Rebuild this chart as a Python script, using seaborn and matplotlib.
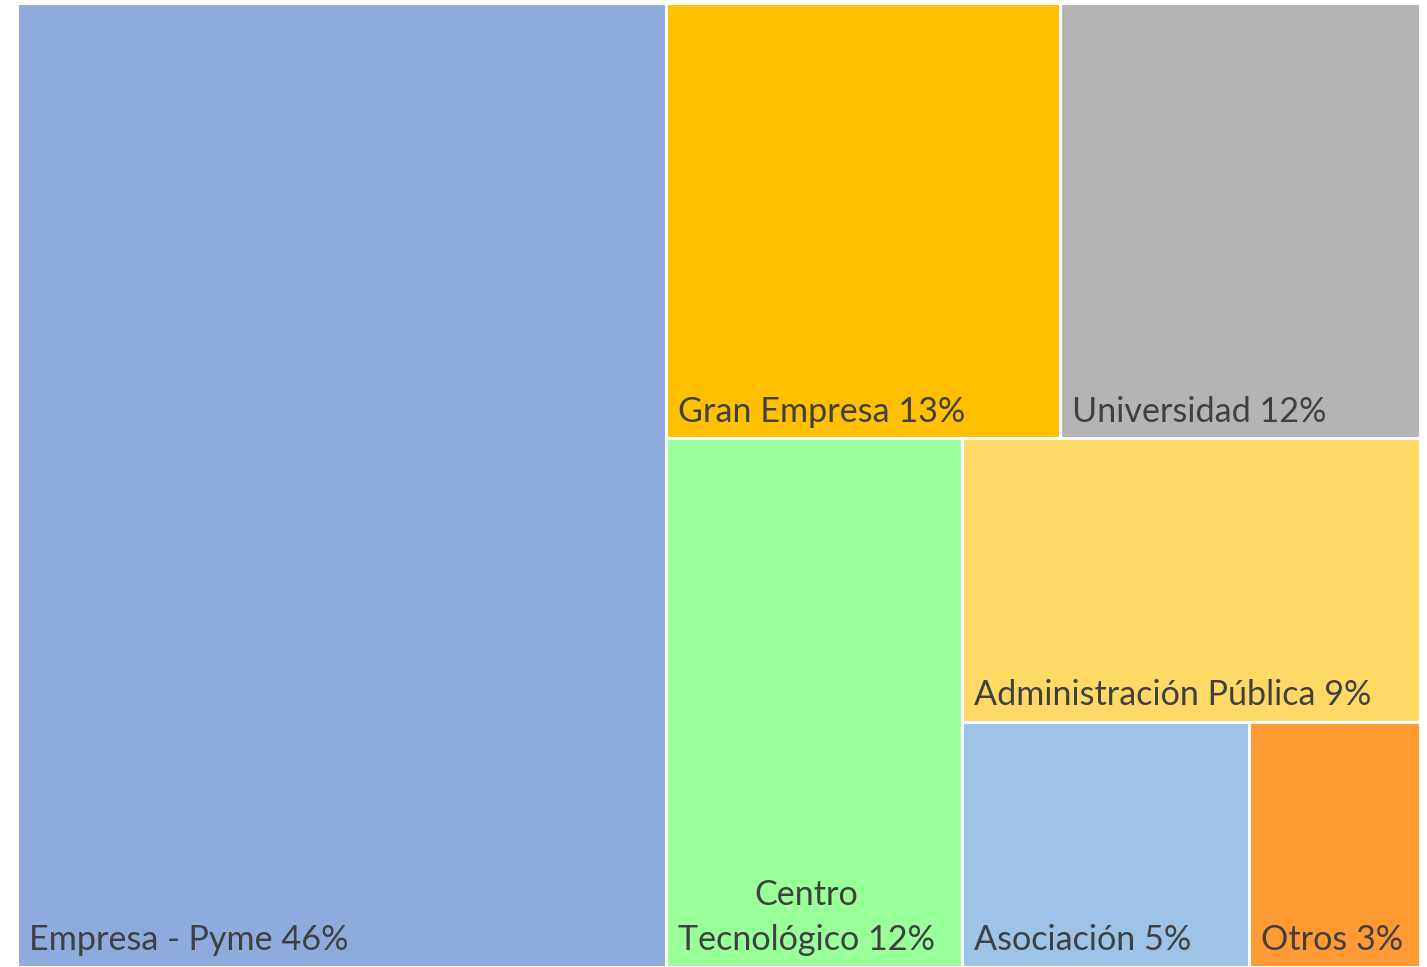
import matplotlib
matplotlib.use("Agg")
import matplotlib.pyplot as plt
import seaborn as sns
from matplotlib.patches import Rectangle

# Data
categories = ["Empresa - Pyme", "Gran Empresa", "Universidad", "Centro Tecnológico",
              "Administración Pública", "Asociación", "Otros"]
# unrounded shares (read from the tile areas) and the rounded ones in the labels
sizes = [46.3, 12.7, 11.6, 11.6, 9.6, 5.2, 3.1]
labels_pct = [46, 13, 12, 12, 9, 5, 3]
colors = ["#8FAADC", "#FFC000", "#B4B4B4", "#99FF99", "#FFD966", "#9DC3E6", "#FF9933"]

sns.set_theme(style="white")
plt.rcParams['font.family'] = ['Lato', 'DejaVu Sans']

fig = plt.figure(figsize=(14.27, 9.67), dpi=100)
ax = fig.add_axes([17 / 1427, 0, 1403 / 1427, 964 / 967])
ax.set_axis_off()

# axes size in inches, used as layout canvas
bb = ax.get_position()
W = bb.width * fig.get_figwidth()
H = bb.height * fig.get_figheight()
ax.set_xlim(0, W)
ax.set_ylim(H, 0)


def worst(row, length):
    s = sum(row)
    return max(max(length ** 2 * r / s ** 2, s ** 2 / (length ** 2 * r)) for r in row)


def squarify(values, x, y, w, h):
    total = sum(values)
    areas = [v * w * h / total for v in values]
    rects = []
    while areas:
        length = min(w, h)
        row = [areas[0]]
        i = 1
        while i < len(areas) and worst(row + [areas[i]], length) <= worst(row, length):
            row.append(areas[i])
            i += 1
        areas = areas[i:]
        s = sum(row)
        if w >= h:
            cw = s / h
            yy = y
            for a in row:
                rects.append((x, yy, cw, a / cw))
                yy += a / cw
            x += cw
            w -= cw
        else:
            rh = s / w
            xx = x
            for a in row:
                rects.append((xx, y, a / rh, rh))
                xx += a / rh
            y += rh
            h -= rh
    return rects


rects = squarify(sizes, 0, 0, W, H)
renderer = fig.canvas.get_renderer()
pad_x, pad_y = 8.5, 12


def text_width(t, s):
    t.set_text(s)
    return t.get_window_extent(renderer).width


for (x, y, w, h), name, val, col in zip(rects, categories, labels_pct, colors):
    ax.add_patch(Rectangle((x, y), w, h, facecolor=col, edgecolor="white", linewidth=2.2))
    label = f"{name} {val}%"
    t = ax.annotate(label, (x, y + h), xytext=(pad_x, pad_y), textcoords="offset points",
                    ha="left", va="baseline", fontsize=24.6, color="#404040",
                    multialignment="center")
    # wrap into two balanced lines if the label is wider than the box
    box_px = w * fig.dpi - 2 * pad_x * fig.dpi / 72
    if text_width(t, label) > box_px:
        words = label.split(" ")
        best = None
        for k in range(1, len(words)):
            a, b = " ".join(words[:k]), " ".join(words[k:])
            m = max(text_width(t, a), text_width(t, b))
            if best is None or m < best[0]:
                best = (m, a + "\n" + b)
        t.set_text(best[1])
        t.set_linespacing(1.5)
    else:
        t.set_text(label)

fig.savefig("out.png", dpi=100)
